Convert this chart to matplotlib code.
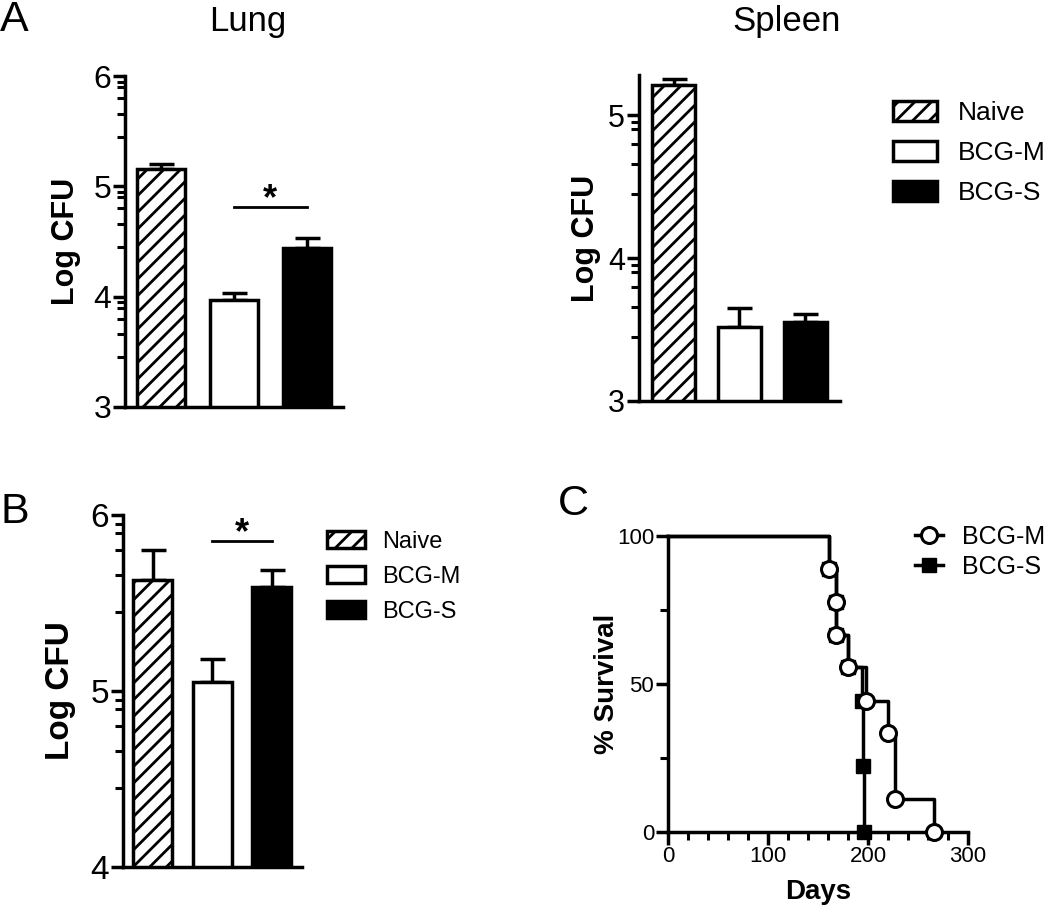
import matplotlib

matplotlib.use("Agg")

import matplotlib.pyplot as plt
import numpy as np
from matplotlib.lines import Line2D
from matplotlib.ticker import MultipleLocator

plt.rcParams["font.family"] = ["Liberation Sans", "DejaVu Sans"]
plt.rcParams["hatch.linewidth"] = 2.0
plt.rcParams["hatch.color"] = "black"

# --- data ---
groups = ["Naive", "BCG-M", "BCG-S"]

lung_mean = [5.16, 3.97, 4.44]
lung_err = [0.04, 0.06, 0.09]
lung_sig = 4.81

spleen_mean = [5.21, 3.52, 3.55]
spleen_err = [0.04, 0.13, 0.06]

b_mean = [5.63, 5.05, 5.59]
b_err = [0.17, 0.13, 0.10]
b_sig = 5.85

# Kaplan-Meier steps (day, % survival)
bcgm_days = [0, 161, 168, 168, 180, 198, 220, 227, 266]
bcgm_surv = [100, 88.9, 77.8, 66.7, 55.6, 44.4, 33.3, 11.1, 0]
bcgs_days = [0, 161, 168, 168, 180, 194, 195, 196]
bcgs_surv = [100, 88.9, 77.8, 66.7, 55.6, 44.4, 22.2, 0]

# Prism-style minor tick offsets inside each decade
minor_offsets = [0.45, 0.66, 0.80, 0.90, 0.95]

FILLS = ["white", "white", "black"]
HATCHES = ["//", None, None]
LW = 2.5

W, H = 1050, 908


def px_axes(fig, left, top, right, bottom):
    return fig.add_axes([left / W, 1 - bottom / H, (right - left) / W, (bottom - top) / H])


def style_axes(ax, labelsize):
    for side in ("top", "right"):
        ax.spines[side].set_visible(False)
    for side in ("left", "bottom"):
        ax.spines[side].set_linewidth(LW)
    ax.tick_params(axis="both", which="major", direction="out", length=9,
                   width=LW, labelsize=labelsize, pad=1)
    ax.tick_params(axis="both", which="minor", direction="out", length=6, width=2.2)


def bar_panel(ax, means, errs, ylim, majors, xlim, labelsize, sig=None):
    x = np.arange(len(means))
    base = ylim[0]
    bars = ax.bar(x, [m - base for m in means], bottom=base, width=0.66,
                  color=FILLS, edgecolor="black", linewidth=LW, zorder=3)
    for patch, hatch in zip(bars.patches, HATCHES):
        if hatch:
            patch.set_hatch(hatch)
    ax.errorbar(x, means, yerr=[np.zeros(len(errs)), errs], fmt="none",
                ecolor="black", elinewidth=LW, capsize=9, capthick=LW, zorder=2)
    if sig is not None:
        ax.plot([1, 2], [sig, sig], color="black", lw=2)
        ax.annotate("*", xy=(1.5, sig), xytext=(0, -7), textcoords="offset points",
                    ha="center", va="bottom", fontsize=26, fontweight="bold")
    ax.set_xlim(*xlim)
    ax.set_ylim(*ylim)
    ax.set_xticks([])
    ax.set_yticks(majors)
    minors = [d + o for d in range(int(ylim[0]), int(np.ceil(ylim[1])))
              for o in minor_offsets if d + o < ylim[1]]
    ax.set_yticks(minors, minor=True)
    style_axes(ax, labelsize)
    ax.set_ylabel("Log CFU", fontsize=22, fontweight="bold")
    return bars


fig = plt.figure(figsize=(W / 100, H / 100), dpi=100)

# Panel A - lung
ax_lung = px_axes(fig, 125, 76, 343, 407)
bars = bar_panel(ax_lung, lung_mean, lung_err, (3, 6), [3, 4, 5, 6],
                 (-0.5, 2.5), 23, sig=lung_sig)
ax_lung.yaxis.set_label_coords(-0.20, 0.5)

# Panel A - spleen
ax_spl = px_axes(fig, 639, 75, 840, 401)
bar_panel(ax_spl, spleen_mean, spleen_err, (3, 5.28), [3, 4, 5],
          (-0.53, 2.53), 22)
ax_spl.yaxis.set_label_coords(-0.19, 0.5)

fig.legend(bars.patches, groups, loc="center left",
           bbox_to_anchor=(893 / W, 1 - 153 / H), frameon=False, fontsize=19,
           handlelength=1.65, handleheight=0.78, handletextpad=0.8,
           labelspacing=0.6, borderpad=0, borderaxespad=0)

# Panel B
ax_b = px_axes(fig, 123, 515, 302, 867)
bars_b = bar_panel(ax_b, b_mean, b_err, (4, 6), [4, 5, 6], (-0.5, 2.51), 24,
                   sig=b_sig)
ax_b.yaxis.label.set_fontsize(24)
ax_b.yaxis.set_label_coords(-0.26, 0.5)
fig.legend(bars_b.patches, groups, loc="center left",
           bbox_to_anchor=(327 / W, 1 - 577 / H), frameon=False, fontsize=17,
           handlelength=1.6, handleheight=0.72, handletextpad=0.75,
           labelspacing=0.55, borderpad=0, borderaxespad=0)

# Panel C - survival
ax_c = px_axes(fig, 668, 536, 968, 832)
ax_c.plot(bcgs_days, bcgs_surv, drawstyle="steps-post", color="black",
          lw=LW, zorder=3, clip_on=False)
ax_c.plot(bcgs_days[1:], bcgs_surv[1:], ls="none", marker="s", ms=10,
          mfc="black", mec="black", zorder=4, clip_on=False)
ax_c.plot(bcgm_days, bcgm_surv, drawstyle="steps-post", color="black",
          lw=LW, zorder=5, clip_on=False)
ax_c.plot(bcgm_days[1:], bcgm_surv[1:], ls="none", marker="o", ms=11.5,
          mfc="white", mec="black", mew=2.2, zorder=6, clip_on=False)
ax_c.set_xlim(0, 300)
ax_c.set_ylim(0, 100)
ax_c.set_xticks([0, 100, 200, 300])
ax_c.xaxis.set_minor_locator(MultipleLocator(20))
ax_c.set_yticks([0, 50, 100])
ax_c.yaxis.set_minor_locator(MultipleLocator(25))
style_axes(ax_c, 16)
ax_c.set_xlabel("Days", fontsize=20, fontweight="bold")
ax_c.xaxis.set_label_coords(0.5, -0.16)
ax_c.set_ylabel("% Survival", fontsize=20, fontweight="bold")
ax_c.yaxis.set_label_coords(-0.16, 0.5)

c_handles = [
    Line2D([], [], color="black", lw=LW, marker="o", ms=11.5, mfc="white",
           mec="black", mew=2.2),
    Line2D([], [], color="black", lw=LW, marker="s", ms=10, mfc="black",
           mec="black"),
]
fig.legend(c_handles, ["BCG-M", "BCG-S"], loc="center left",
           bbox_to_anchor=(915 / W, 1 - 552 / H), frameon=False, fontsize=18,
           handlelength=1.1, handletextpad=0.8, labelspacing=0.25,
           borderpad=0, borderaxespad=0)

# titles and panel letters
fig.text(248 / W, 1 - 22 / H, "Lung", fontsize=25, ha="center", va="center")
fig.text(787 / W, 1 - 22 / H, "Spleen", fontsize=25, ha="center", va="center")
fig.text(0 / W, 1 - 20 / H, "A", fontsize=31, ha="left", va="center")
fig.text(0 / W, 1 - 512 / H, "B", fontsize=31, ha="left", va="center")
fig.text(558 / W, 1 - 504 / H, "C", fontsize=31, ha="left", va="center")

fig.savefig("out.png", dpi=100)
